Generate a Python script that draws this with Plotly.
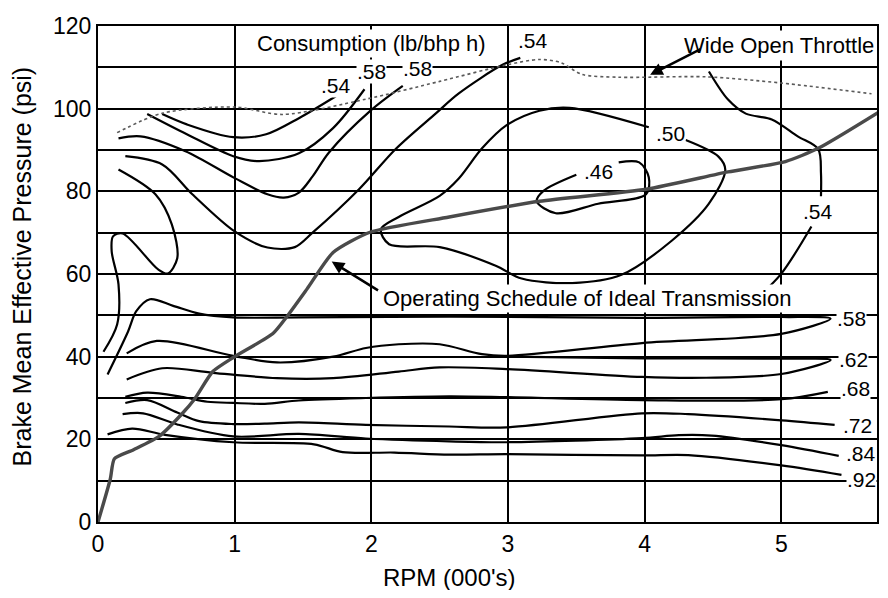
import plotly.graph_objects as go

# ---------------- data (RPM in 000's, BMEP in psi) ----------------
wot_x = [0.14, 0.47, 1.0, 1.35, 1.96, 2.50, 2.99, 3.23, 3.39, 3.54, 3.81, 4.45, 5.0, 5.66]
wot_y = [94.2, 98.9, 100.4, 98.6, 102.3, 106.6, 110.6, 111.9, 111.1, 108.3, 107.6, 107.7, 106.2, 103.6]

sched_x = [0, 0.09, 0.12, 0.26, 0.45, 0.61, 0.71, 0.84, 0.99, 1.28, 1.38, 1.53, 1.72, 1.99, 2.57, 3.23, 4.01, 4.61, 5.03, 5.27, 5.73]
sched_y = [0, 10.4, 15.3, 17.5, 20.8, 26.0, 29.9, 36.4, 39.8, 45.6, 49.6, 56.4, 65.2, 70.1, 73.8, 77.6, 80.5, 84.7, 87.2, 90.4, 99.5]

c054a_x = [0.47, 0.65, 0.99, 1.23, 1.47, 1.74]
c054a_y = [98.7, 96.2, 93.1, 93.8, 97.7, 103.0]
c058a_x = [0.36, 0.65, 0.99, 1.18, 1.47, 1.72, 1.95]
c058a_y = [98.7, 93.8, 88.5, 87.3, 89.2, 95.3, 104.7]
c058b_x = [0.15, 0.31, 0.64, 1.0, 1.24, 1.36, 1.47, 1.57, 1.69, 1.99, 2.23]
c058b_y = [92.8, 93.3, 89.7, 83.2, 79.3, 78.5, 79.7, 83.6, 89.4, 99.4, 105.5]
c054b_x = [0.2, 0.47, 0.69, 1.0, 1.24, 1.44, 1.57, 1.91, 2.18, 2.47, 2.64, 2.96, 3.09]
c054b_y = [88.5, 86.5, 79.3, 70.3, 66.4, 66.5, 70.0, 80.5, 90.3, 98.8, 103.7, 110.6, 112.3]
loop_x = [0.15, 0.42, 0.54, 0.58, 0.51, 0.44, 0.18, 0.11, 0.10, 0.15, 0.14, 0.04]
loop_y = [85.3, 79.3, 72.0, 63.8, 60.1, 61.1, 69.8, 69.1, 65.5, 57.5, 47.8, 41.2]
c046_x = [3.81, 3.96, 4.03, 4.01, 3.66, 3.35, 3.21, 3.26, 3.50]
c046_y = [87.0, 87.0, 83.4, 79.3, 77.0, 74.7, 77.6, 80.1, 84.0]
c050_x = [4.03, 3.45, 3.23, 2.99, 2.81, 2.64, 2.50, 2.20, 2.07, 2.13, 2.50, 2.91, 3.10, 3.47, 3.83, 4.20, 4.47, 4.59, 4.54, 4.30]
c050_y = [95.5, 100.2, 99.5, 96.0, 90.4, 83.1, 78.9, 73.8, 70.8, 67.2, 66.5, 62.0, 58.9, 57.8, 59.8, 68.1, 77.0, 85.2, 88.4, 92.4]
c054c_x = [4.47, 4.61, 4.74, 4.93, 5.12, 5.27, 5.29, 5.29]
c054c_y = [109.0, 102.2, 98.8, 97.4, 93.3, 90.2, 84.4, 78.8]
c054d_x = [5.22, 5.0, 4.83, 4.76]
c054d_y = [71.5, 60.1, 54.4, 52.5]
c058c_x = [0.07, 0.22, 0.28, 0.38, 0.55, 0.74, 0.99, 1.47, 2.57, 3.96, 5.0, 5.36, 5.0, 3.98, 2.99, 2.81, 2.50, 2.2, 1.96, 1.72, 1.31, 0.99, 0.43, 0.21]
c058c_y = [35.7, 46.1, 51.0, 53.9, 52.3, 50.4, 49.5, 49.5, 49.7, 49.4, 49.6, 49.2, 45.5, 43.3, 40.2, 40.6, 43.0, 43.0, 42.1, 40.0, 38.6, 40.2, 43.8, 40.8]
c062_x = [3.0, 4.0, 5.0, 5.36, 5.0, 4.45, 3.98, 2.99, 2.50, 2.2, 1.72, 1.31, 0.84, 0.47, 0.21]
c062_y = [40.0, 39.6, 39.5, 39.2, 35.8, 34.9, 35.1, 37.0, 37.4, 36.4, 34.8, 34.8, 36.1, 37.2, 34.5]
c068_x = [0.2, 0.36, 0.61, 0.8, 0.99, 1.22, 1.47, 1.96, 2.57, 2.99, 3.98, 5.0, 5.34]
c068_y = [30.3, 31.3, 30.3, 29.1, 28.8, 28.6, 29.4, 30.0, 30.4, 30.2, 29.5, 29.7, 31.5]
c072_x = [0.2, 0.36, 0.58, 0.74, 0.99, 1.22, 1.47, 1.96, 2.57, 2.99, 3.98, 4.32, 5.0, 5.39]
c072_y = [28.8, 29.5, 26.5, 24.4, 23.7, 23.8, 24.1, 23.5, 23.1, 22.9, 26.3, 26.1, 24.6, 23.5]
c084_x = [0.18, 0.33, 0.58, 0.99, 1.47, 1.96, 2.57, 2.99, 3.98, 4.25, 4.49, 5.0, 5.42]
c084_y = [26.1, 26.3, 23.6, 20.7, 21.3, 20.2, 19.5, 19.3, 20.3, 21.0, 20.9, 18.6, 16.0]
c092_x = [0.07, 0.25, 0.49, 0.99, 1.58, 1.79, 2.17, 2.57, 2.99, 3.98, 4.32, 5.0, 5.44]
c092_y = [21.2, 22.6, 21.1, 19.3, 18.8, 16.9, 16.8, 16.3, 16.4, 16.1, 16.2, 13.7, 11.4]

label_text = [".54", ".58", ".58", ".54", ".50", ".46", ".54", ".58", ".62", ".68", ".72", ".84", ".92"]
label_x = [1.74, 2.0, 2.34, 3.18, 4.19, 3.66, 5.27, 5.51, 5.53, 5.54, 5.56, 5.58, 5.59]
label_y = [105.6, 109.1, 109.7, 116.5, 93.9, 84.8, 75.1, 49.2, 39.3, 32.2, 23.3, 16.5, 10.2]

x_ticks = [0, 1, 2, 3, 4, 5]
y_ticks = [0, 20, 40, 60, 80, 100, 120]

FONT = "Liberation Sans, Arial, sans-serif"

fig = go.Figure()

contours = [
    (c054a_x, c054a_y), (c058a_x, c058a_y), (c058b_x, c058b_y), (c054b_x, c054b_y),
    (loop_x, loop_y), (c046_x, c046_y), (c050_x, c050_y), (c054c_x, c054c_y),
    (c054d_x, c054d_y), (c058c_x, c058c_y), (c062_x, c062_y), (c068_x, c068_y),
    (c072_x, c072_y), (c084_x, c084_y), (c092_x, c092_y),
]
for cx, cy in contours:
    fig.add_trace(go.Scatter(x=cx, y=cy, mode="lines",
                             line=dict(color="black", width=2.2, shape="spline", smoothing=0.9),
                             hoverinfo="skip", showlegend=False))

fig.add_trace(go.Scatter(x=wot_x, y=wot_y, mode="lines",
                         line=dict(color="#5a5a5a", width=1.6, dash="dot", shape="spline", smoothing=0.8),
                         showlegend=False, hoverinfo="skip"))
fig.add_trace(go.Scatter(x=sched_x, y=sched_y, mode="lines",
                         line=dict(color="#4a4a4a", width=3.4, shape="spline", smoothing=0.6),
                         showlegend=False, hoverinfo="skip"))

annotations = []
for t, lx, ly in zip(label_text, label_x, label_y):
    annotations.append(dict(x=lx, y=ly, xref="x", yref="y", text=t, showarrow=False,
                            font=dict(family=FONT, size=21, color="black"),
                            bgcolor="white", borderpad=0))

annotations += [
    dict(x=2.0, y=115.8, xref="x", yref="y", text="Consumption (lb/bhp h)", showarrow=False,
         font=dict(family=FONT, size=22, color="black"), bgcolor="white", borderpad=1),
    dict(x=4.98, y=115.2, xref="x", yref="y", text="Wide Open Throttle", showarrow=False,
         font=dict(family=FONT, size=22, color="black"), bgcolor="white", borderpad=2),
    dict(x=3.58, y=54.0, xref="x", yref="y", text="Operating Schedule of Ideal Transmission",
         showarrow=False, font=dict(family=FONT, size=22, color="black"), bgcolor="white", borderpad=1),
    dict(x=4.04, y=108.2, ax=4.42, ay=114.6, xref="x", yref="y", axref="x", ayref="y",
         text="", showarrow=True, arrowhead=2, arrowsize=1, arrowwidth=2.5, arrowcolor="black"),
    dict(x=1.71, y=63.0, ax=2.06, ay=55.8, xref="x", yref="y", axref="x", ayref="y",
         text="", showarrow=True, arrowhead=2, arrowsize=1, arrowwidth=2.5, arrowcolor="black"),
    dict(x=(450 - 98) / 781, y=-0.111, xref="paper", yref="paper", text="RPM (000's)",
         showarrow=False, xanchor="center", yanchor="middle",
         font=dict(family=FONT, size=24, color="black")),
    dict(x=-0.097, y=0.516, xref="paper", yref="paper", text="Brake Mean Effective Pressure (psi)",
         showarrow=False, textangle=-90, xanchor="center", yanchor="middle",
         font=dict(family=FONT, size=25, color="black")),
]

# The page body adds an 8px margin, so the figure is sized to fit inside the 888x598 window.
fig.update_layout(
    width=872, height=582,
    margin=dict(l=90, r=1, t=18, b=68),
    paper_bgcolor="white", plot_bgcolor="white",
    font=dict(family=FONT, size=23, color="black"),
    annotations=annotations,
    xaxis=dict(range=[0, 5.70], tickvals=x_ticks, ticktext=[str(v) for v in x_ticks],
               showgrid=True, gridcolor="black", gridwidth=1.5,
               showline=True, linecolor="black", linewidth=2, mirror=True,
               zeroline=False, ticks="", tickfont=dict(size=23)),
    yaxis=dict(range=[0, 120], tickvals=y_ticks, ticktext=[str(v) for v in y_ticks],
               showgrid=True, gridcolor="black", gridwidth=1.5,
               minor=dict(dtick=10, tick0=0, showgrid=True, gridcolor="black", gridwidth=1.5),
               showline=True, linecolor="black", linewidth=2, mirror=True,
               zeroline=False, ticks="", tickfont=dict(size=23)),
)

fig.write_html("out.html")
